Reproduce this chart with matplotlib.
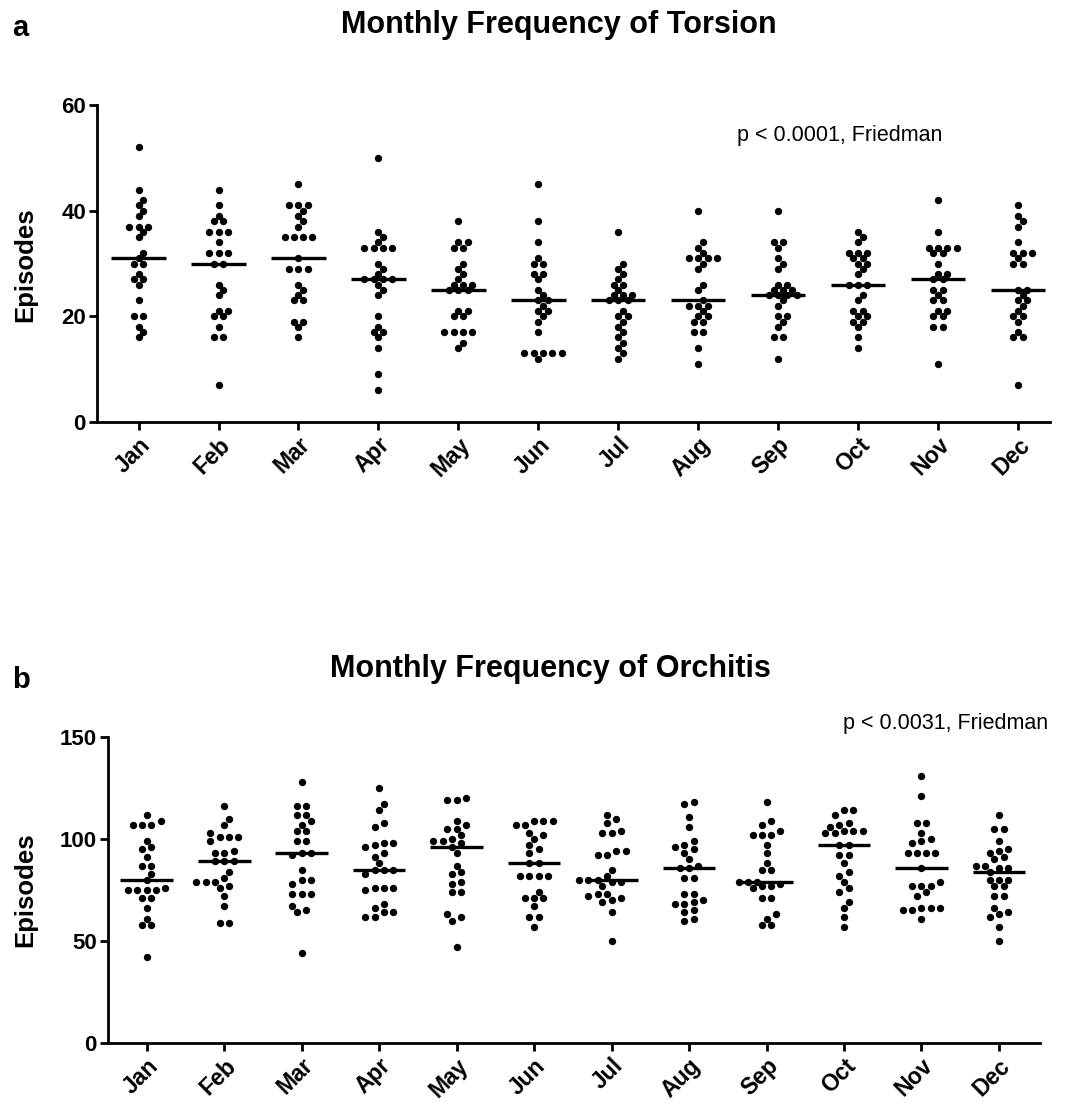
"""Monthly frequency of torsion / orchitis: dot plots with median lines."""
import matplotlib
matplotlib.use("Agg")
import matplotlib.pyplot as plt
import numpy as np

plt.rcParams["font.family"] = ["Liberation Sans", "DejaVu Sans"]

months = ["Jan", "Feb", "Mar", "Apr", "May", "Jun",
          "Jul", "Aug", "Sep", "Oct", "Nov", "Dec"]

# -- panel a: torsion episodes per month (one dot per year) --
jan_t = [52, 44, 42, 41, 40, 39, 37, 37, 37, 36, 35, 32, 31, 30, 30, 28, 27, 27, 26, 23, 20, 20, 18, 17, 16]
feb_t = [44, 41, 39, 38, 38, 36, 36, 36, 34, 32, 32, 32, 30, 30, 26, 25, 24, 21, 21, 20, 20, 18, 16, 16, 7]
mar_t = [45, 41, 41, 41, 40, 39, 38, 37, 35, 35, 35, 35, 31, 29, 29, 29, 26, 25, 24, 23, 23, 19, 19, 18, 16]
apr_t = [50, 36, 35, 34, 33, 33, 33, 33, 30, 29, 28, 27, 27, 27, 27, 26, 25, 24, 20, 18, 17, 17, 16, 14, 9, 6]
may_t = [38, 34, 34, 33, 33, 30, 29, 28, 27, 26, 26, 26, 25, 25, 25, 21, 21, 20, 20, 17, 17, 17, 17, 15, 14]
jun_t = [45, 38, 34, 31, 30, 30, 28, 28, 27, 25, 24, 23, 23, 22, 21, 21, 20, 19, 17, 13, 13, 13, 13, 13, 12]
jul_t = [36, 30, 29, 28, 27, 26, 26, 25, 24, 24, 24, 23, 23, 23, 21, 20, 20, 19, 18, 17, 16, 15, 14, 13, 12]
aug_t = [40, 34, 33, 32, 31, 31, 31, 31, 30, 29, 26, 25, 23, 22, 22, 22, 21, 20, 20, 19, 19, 17, 17, 14, 11]
sep_t = [40, 34, 34, 33, 31, 30, 29, 26, 26, 25, 25, 25, 24, 24, 24, 24, 23, 22, 20, 20, 19, 18, 16, 16, 12]
oct_t = [36, 35, 34, 32, 32, 32, 31, 31, 30, 30, 29, 28, 26, 26, 26, 24, 23, 21, 21, 20, 20, 19, 19, 18, 16, 14]
nov_t = [42, 36, 33, 33, 33, 33, 32, 32, 30, 28, 28, 27, 27, 25, 25, 24, 23, 23, 21, 21, 20, 20, 18, 18, 11]
dec_t = [41, 39, 38, 37, 34, 32, 32, 32, 31, 30, 30, 25, 25, 24, 23, 23, 22, 21, 20, 20, 19, 17, 16, 16, 7]

# -- panel b: orchitis episodes per month --
jan_o = [112, 109, 107, 107, 107, 99, 96, 95, 91, 87, 87, 83, 80, 76, 75, 75, 75, 75, 71, 71, 66, 61, 58, 58, 42]
feb_o = [116, 110, 107, 103, 101, 101, 101, 99, 94, 93, 93, 89, 89, 89, 84, 81, 79, 79, 79, 77, 76, 72, 67, 59, 59]
mar_o = [128, 116, 116, 112, 112, 109, 107, 104, 104, 99, 99, 93, 93, 92, 85, 80, 80, 78, 73, 73, 73, 67, 65, 64, 44]
apr_o = [125, 117, 114, 108, 106, 98, 98, 97, 96, 93, 91, 88, 85, 85, 85, 83, 76, 76, 76, 75, 68, 66, 64, 64, 62, 62]
may_o = [120, 119, 119, 109, 107, 105, 105, 102, 100, 99, 99, 98, 96, 93, 87, 84, 83, 79, 78, 74, 74, 63, 62, 60, 47]
jun_o = [109, 109, 109, 107, 107, 103, 102, 100, 97, 95, 93, 88, 88, 82, 82, 82, 82, 74, 71, 71, 71, 67, 62, 62, 57]
jul_o = [112, 110, 108, 104, 103, 103, 94, 94, 92, 92, 85, 82, 80, 80, 80, 79, 79, 77, 73, 73, 72, 71, 70, 69, 64, 50]
aug_o = [118, 117, 111, 106, 99, 97, 96, 95, 93, 90, 87, 86, 86, 81, 81, 73, 73, 70, 69, 68, 68, 65, 64, 61, 60]
sep_o = [118, 109, 107, 104, 102, 102, 102, 97, 93, 88, 85, 85, 79, 79, 79, 78, 77, 77, 76, 71, 71, 63, 61, 58, 58]
oct_o = [114, 114, 112, 108, 107, 106, 104, 104, 104, 103, 103, 97, 97, 92, 92, 88, 84, 82, 79, 76, 74, 69, 66, 62, 57]
nov_o = [131, 121, 108, 108, 103, 100, 99, 98, 93, 93, 93, 93, 86, 79, 77, 77, 77, 74, 72, 66, 66, 66, 65, 65, 61]
dec_o = [112, 105, 105, 99, 95, 94, 93, 91, 90, 87, 87, 86, 86, 84, 80, 80, 80, 77, 77, 72, 72, 66, 64, 63, 62, 57, 50]

torsion = [jan_t, feb_t, mar_t, apr_t, may_t, jun_t, jul_t, aug_t, sep_t, oct_t, nov_t, dec_t]
orchitis = [jan_o, feb_o, mar_o, apr_o, may_o, jun_o, jul_o, aug_o, sep_o, oct_o, nov_o, dec_o]


def swarm_offsets(values, px_x, px_y, step=9.3, row_h=5.0, min_dist=6.4):
    """Prism-like horizontal spread: rows of close values centred, shifted by
    half steps when they would collide with rows already placed."""
    vals = np.sort(np.asarray(values, dtype=float))
    ypx = vals * px_y
    rows, cur = [], [0]
    for i in range(1, len(vals)):
        if ypx[i] - ypx[cur[0]] < row_h:
            cur.append(i)
        else:
            rows.append(cur)
            cur = [i]
    rows.append(cur)

    placed_x, placed_y, out_x = [], [], []
    for row in rows:
        n = len(row)
        base = (np.arange(n) - (n - 1) / 2) * step
        ys = ypx[row]
        for k in [0, 1, -1, 2, -2, 3, -3, 4, -4]:
            xs = base + k * step / 2
            ok = True
            for px, py in zip(placed_x, placed_y):
                if np.any(np.hypot(xs - px, ys - py) < min_dist):
                    ok = False
                    break
            if ok:
                break
        placed_x.extend(xs)
        placed_y.extend(ys)
        out_x.extend(xs)
    return np.array(out_x) / px_x, vals


def draw_panel(ax, data, xlim, ylim, yticks):
    ax.set_xlim(*xlim)
    ax.set_ylim(*ylim)
    p0 = ax.transData.transform((0, 0))
    p1 = ax.transData.transform((1, 1))
    px_x, px_y = p1[0] - p0[0], p1[1] - p0[1]
    for i, vals in enumerate(data):
        dx, ys = swarm_offsets(vals, px_x, px_y)
        ax.scatter(i + dx, ys, s=28, color="black", linewidths=0, zorder=3, clip_on=False)
        med = np.median(vals)
        ax.plot([i - 0.34, i + 0.34], [med, med], color="black", lw=2.4, zorder=4,
                solid_capstyle="butt")
    for side in ("top", "right"):
        ax.spines[side].set_visible(False)
    for side in ("left", "bottom"):
        ax.spines[side].set_linewidth(2.0)
    ax.set_xticks(range(12))
    ax.set_xticklabels(months)
    ax.set_yticks(yticks)
    ax.tick_params(axis="both", length=6, width=2.0, pad=2)
    ax.tick_params(axis="x", labelsize=16.5, pad=2)
    ax.tick_params(axis="y", labelsize=16)
    for lab in ax.get_xticklabels() + ax.get_yticklabels():
        lab.set_fontweight("bold")
    plt.setp(ax.get_xticklabels(), rotation=45, ha="right", va="top",
             rotation_mode="anchor")


fig = plt.figure(figsize=(10.65, 11.05), dpi=100)
W, H = 1065.0, 1105.0

ax_a = fig.add_axes([97 / W, 1 - 422 / H, (1050 - 97) / W, (422 - 105) / H])
draw_panel(ax_a, torsion, (-0.52, 11.4), (0, 60), [0, 20, 40, 60])

ax_b = fig.add_axes([108 / W, 1 - 1043 / H, (1040 - 108) / W, (1043 - 737) / H])
draw_panel(ax_b, orchitis, (-0.5, 11.53), (0, 150), [0, 50, 100, 150])

# -- titles, panel letters, axis labels, test annotations --
fig.text(559 / W, 1 - 25 / H, "Monthly Frequency of Torsion", ha="center", va="center",
         fontsize=22, fontweight="bold")
fig.text(550 / W, 1 - 669 / H, "Monthly Frequency of Orchitis", ha="center", va="center",
         fontsize=22, fontweight="bold")
fig.text(12 / W, 1 - 28 / H, "a", ha="left", va="center", fontsize=21, fontweight="bold")
fig.text(12 / W, 1 - 680 / H, "b", ha="left", va="center", fontsize=21, fontweight="bold")
fig.text(25 / W, 1 - 265 / H, "Episodes", rotation=90, ha="center", va="center",
         fontsize=18.5, fontweight="bold")
fig.text(25 / W, 1 - 890 / H, "Episodes", rotation=90, ha="center", va="center",
         fontsize=18.5, fontweight="bold")
fig.text(737 / W, 1 - 141 / H, "p < 0.0001, Friedman", ha="left", va="baseline", fontsize=15.5)
fig.text(843 / W, 1 - 729 / H, "p < 0.0031, Friedman", ha="left", va="baseline", fontsize=15.5)

fig.savefig("out.png", dpi=100)
plt.close(fig)
